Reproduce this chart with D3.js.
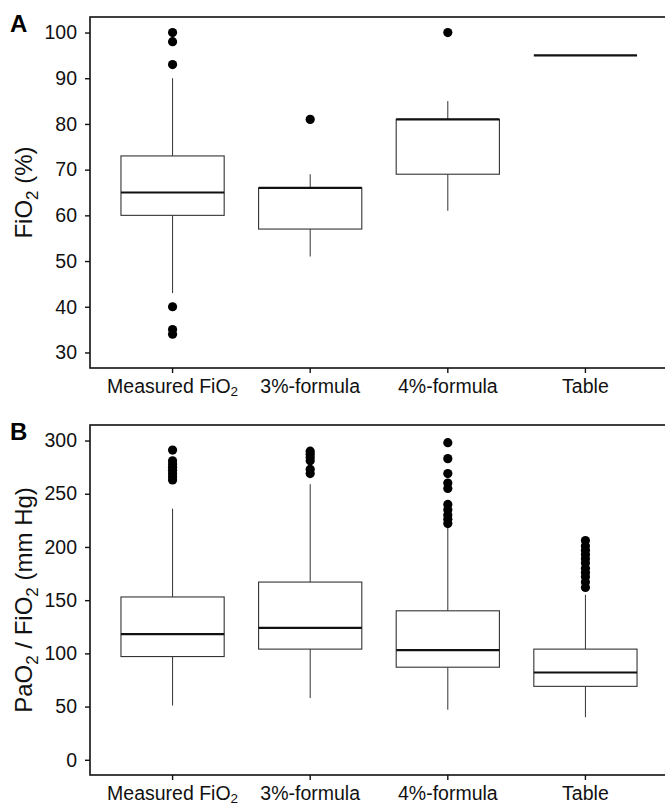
<!DOCTYPE html>
<html>
<head>
<meta charset="utf-8">
<script src="https://cdn.jsdelivr.net/npm/d3@7"></script>
<style>
  html, body { margin: 0; padding: 0; background: #fff; }
  svg { display: block; font-family: "Liberation Sans", Arial, sans-serif; }
</style>
</head>
<body>
<svg id="chart" width="665" height="806"></svg>
<script>
// ---------- data ----------
const categories = ["Measured FiO2", "3%-formula", "4%-formula", "Table"];

// Panel A: FiO2 (%)
const fioLower  = [43, 51, 61, 95];
const fioQ1     = [60, 57, 69, 95];
const fioMedian = [65, 66, 81, 95];
const fioQ3     = [73, 66, 81, 95];
const fioUpper  = [90, 69, 85, 95];
const fioOutliers = [[100, 98, 93, 40, 35, 34], [81], [100], []];
const fioTicks = [30, 40, 50, 60, 70, 80, 90, 100];

// Panel B: PaO2 / FiO2 (mm Hg)
const ratioLower  = [51, 58, 47, 40];
const ratioQ1     = [97, 104, 87, 69];
const ratioMedian = [118, 124, 103, 82];
const ratioQ3     = [153, 167, 140, 104];
const ratioUpper  = [236, 259, 221, 155];
const ratioOutliers = [
  [291, 281, 278, 275, 272, 269, 266, 263],
  [290, 287, 284, 281, 273, 269],
  [298, 283, 269, 260, 255, 240, 235, 230, 226, 222],
  [206, 201, 197, 193, 189, 185, 180, 176, 172, 167, 162]
];
const ratioTicks = [0, 50, 100, 150, 200, 250, 300];

// ---------- drawing ----------
const svg = d3.select("#chart");
const left = 90, right = 668;

function panel(opts) {
  const {top, bottom, domain, ticks, lower, q1, median, q3, upper, outliers, letter, titleParts} = opts;
  const g = svg.append("g");
  const x = d3.scaleBand().domain(categories).range([left, right])
    .paddingInner(0.25).paddingOuter(0.225);
  const y = d3.scaleLinear().domain(domain).range([bottom, top]);

  const rows = categories.map((c, i) => ({
    c, lo: lower[i], q1: q1[i], med: median[i], q3: q3[i], hi: upper[i], out: outliers[i]
  }));

  const box = g.selectAll("g.box").data(rows).join("g").attr("class", "box");
  const cx = d => x(d.c) + x.bandwidth() / 2;
  // whiskers
  box.append("line").attr("x1", cx).attr("x2", cx)
    .attr("y1", d => y(d.q3)).attr("y2", d => y(d.hi))
    .attr("stroke", "#333").attr("stroke-width", 1);
  box.append("line").attr("x1", cx).attr("x2", cx)
    .attr("y1", d => y(d.q1)).attr("y2", d => y(d.lo))
    .attr("stroke", "#333").attr("stroke-width", 1);
  // box
  box.append("rect")
    .attr("x", d => x(d.c)).attr("width", x.bandwidth())
    .attr("y", d => y(d.q3)).attr("height", d => y(d.q1) - y(d.q3))
    .attr("fill", "#fff").attr("stroke", "#333").attr("stroke-width", 1.1);
  // median
  box.append("line")
    .attr("x1", d => x(d.c)).attr("x2", d => x(d.c) + x.bandwidth())
    .attr("y1", d => y(d.med)).attr("y2", d => y(d.med))
    .attr("stroke", "#111").attr("stroke-width", 2.2);
  // outliers
  box.selectAll("circle").data(d => d.out.map(v => ({c: d.c, v})))
    .join("circle").attr("cx", cx).attr("cy", d => y(d.v)).attr("r", 4.6)
    .attr("fill", "#000");

  // frame
  g.append("rect").attr("x", left).attr("y", top)
    .attr("width", right - left).attr("height", bottom - top)
    .attr("fill", "none").attr("stroke", "#111").attr("stroke-width", 1.6);

  // y axis
  const ya = g.append("g").attr("transform", `translate(${left},0)`)
    .call(d3.axisLeft(y).tickValues(ticks).tickSize(5).tickPadding(8).tickFormat(d3.format("d")));
  ya.select(".domain").remove();
  ya.selectAll(".tick line").attr("stroke", "#111").attr("stroke-width", 1.4);
  ya.selectAll(".tick text").attr("font-size", 19.5).attr("fill", "#111")
    .attr("font-family", "Liberation Sans, Arial, sans-serif");

  // x axis
  const xa = g.append("g").attr("transform", `translate(0,${bottom})`)
    .call(d3.axisBottom(x).tickSize(5).tickPadding(6));
  xa.select(".domain").remove();
  xa.selectAll(".tick line").attr("stroke", "#111").attr("stroke-width", 1.4);
  xa.selectAll(".tick text").attr("font-size", 19.5).attr("fill", "#111")
    .attr("font-family", "Liberation Sans, Arial, sans-serif")
    .each(function(d) {
      const t = d3.select(this);
      if (d === "Measured FiO2") {
        t.text(null);
        t.append("tspan").text("Measured FiO");
        t.append("tspan").text("2").attr("font-size", 13.5).attr("dy", 3.5);
      }
    });

  // y title
  const cy = (top + bottom) / 2;
  const title = g.append("text")
    .attr("transform", `translate(32,${cy}) rotate(-90)`)
    .attr("text-anchor", "middle").attr("font-size", 24).attr("fill", "#111");
  titleParts.forEach(p => {
    const ts = title.append("tspan").text(p.t);
    if (p.sub) ts.attr("font-size", 17).attr("dy", 6);
    if (p.after) ts.attr("dy", -6);
  });

  // panel letter
  g.append("text").attr("x", 10).attr("y", top + 15)
    .attr("font-size", 24).attr("font-weight", "bold").attr("fill", "#000").text(letter);
}

panel({
  top: 17, bottom: 368, domain: [26.6, 103.4], ticks: fioTicks,
  lower: fioLower, q1: fioQ1, median: fioMedian, q3: fioQ3, upper: fioUpper,
  outliers: fioOutliers, letter: "A",
  titleParts: [{t: "FiO"}, {t: "2", sub: true}, {t: " (%)", after: true}]
});

panel({
  top: 425, bottom: 775, domain: [-14.3, 314.6], ticks: ratioTicks,
  lower: ratioLower, q1: ratioQ1, median: ratioMedian, q3: ratioQ3, upper: ratioUpper,
  outliers: ratioOutliers, letter: "B",
  titleParts: [{t: "PaO"}, {t: "2", sub: true}, {t: " / FiO", after: true}, {t: "2", sub: true}, {t: " (mm Hg)", after: true}]
});
</script>
</body>
</html>
